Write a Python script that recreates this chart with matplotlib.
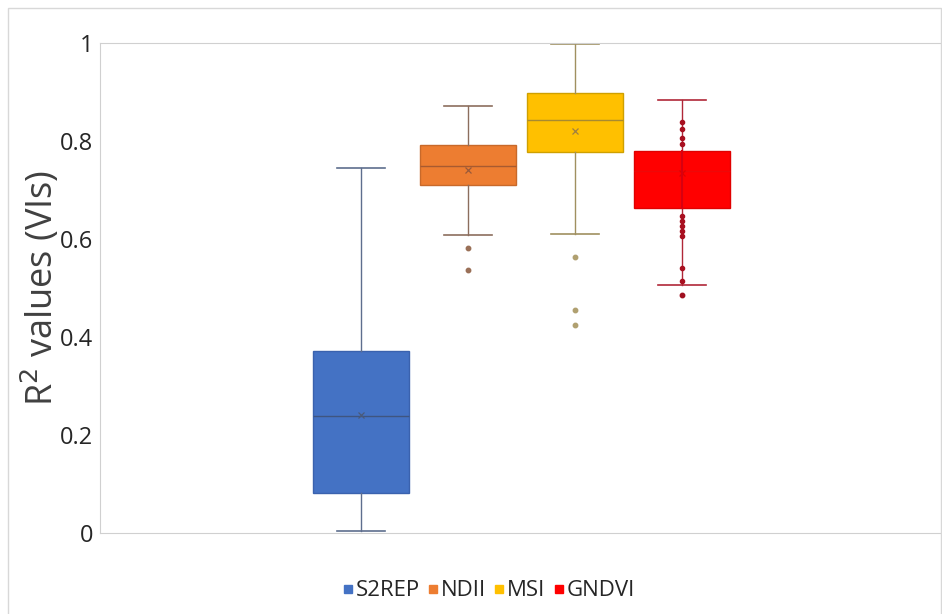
import matplotlib
matplotlib.use("Agg")
import matplotlib.pyplot as plt
from matplotlib.patches import Rectangle
from matplotlib.lines import Line2D

plt.rcParams['font.family'] = ['Open Sans', 'DejaVu Sans']

# box statistics
labels  = ["S2REP", "NDII", "MSI", "GNDVI"]
q1      = [0.082, 0.710, 0.777, 0.663]
median  = [0.239, 0.750, 0.843, 0.739]
q3      = [0.372, 0.791, 0.898, 0.779]
whislo  = [0.004, 0.609, 0.611, 0.507]
whishi  = [0.744, 0.871, 0.998, 0.884]
means   = [0.241, 0.740, 0.820, 0.735]
fliers  = [[], [0.581, 0.536], [0.564, 0.456, 0.425], [0.485]]
# GNDVI inner points visible outside the box (Excel "show inner points")
gndvi_inner = [0.838, 0.824, 0.806, 0.793, 0.646, 0.636, 0.626, 0.616, 0.607, 0.540, 0.515]

face  = ["#4472C4", "#ED7D31", "#FFC000", "#FF0000"]
edge  = ["#3A62AE", "#C8692A", "#CFA000", "#E00000"]
wcol  = ["#5E6E8E", "#8C6E5E", "#A09060", "#B02838"]
mcol  = ["#3F5580", "#A85A30", "#A88A30", "#EE0808"]
xcol  = ["#4A5A7A", "#9A5A3A", "#A08040", "#E00000"]
fcol  = ["#9A7058", "#9A7058", "#B0A070", "#A01020"]

fig = plt.figure(figsize=(9.42, 6.14), dpi=100)
ax = fig.add_axes([100/942, 81/614, 841/942, 490/614])

pos = [1, 2, 3, 4]
for i in range(4):
    st = dict(med=median[i], q1=q1[i], q3=q3[i], whislo=whislo[i], whishi=whishi[i],
              mean=means[i], fliers=fliers[i], label=labels[i])
    ax.bxp([st], positions=[pos[i]], widths=0.9, patch_artist=True, showmeans=True,
           boxprops=dict(facecolor=face[i], edgecolor=edge[i], linewidth=1.0),
           medianprops=dict(color=mcol[i], linewidth=1.0),
           whiskerprops=dict(color=wcol[i], linewidth=1.0),
           capprops=dict(color=wcol[i], linewidth=1.2),
           meanprops=dict(marker="x", markeredgecolor=xcol[i], markersize=5, markeredgewidth=0.9),
           flierprops=dict(marker="o", markerfacecolor=fcol[i], markeredgecolor=fcol[i], markersize=3.2),
           capwidths=0.45, manage_ticks=False)

ax.plot([4, 4], [q1[3], q3[3]], color="#D80010", lw=1.5, zorder=3)
ax.scatter([4] * len(gndvi_inner), gndvi_inner, s=9, color="#A81020", zorder=4)

ax.set_xlim(-1.44, 6.42)
ax.set_ylim(0, 1)
ax.set_yticks([0, 0.2, 0.4, 0.6, 0.8, 1.0])
ax.set_yticklabels(["0", "0.2", "0.4", "0.6", "0.8", "1"])
ax.set_xticks([])
ax.tick_params(axis="y", length=0, labelsize=17, pad=5, labelcolor="#262626")
for s in ["left", "top", "bottom"]:
    ax.spines[s].set_color("#D0D0D0")
ax.spines["right"].set_visible(False)
ax.set_ylabel("R$^2$ values (VIs)", fontsize=26, color="#404040")
ax.yaxis.set_label_coords(-0.045, 0.5)

handles = [Line2D([], [], marker="s", ls="", markersize=6, color=c) for c in face]
fig.legend(handles, labels, loc="lower center", bbox_to_anchor=(0.518, -0.012), ncol=4,
           frameon=False, fontsize=16, handletextpad=0.05, columnspacing=0.3,
           handlelength=0.6, labelcolor="#262626")

fig.patches.append(Rectangle((8/942, -0.01), 933/942, 1 - 8/614 + 0.01, transform=fig.transFigure,
                             fill=False, edgecolor="#D8D8D8", lw=1.0))

fig.savefig("out.png", dpi=100)
